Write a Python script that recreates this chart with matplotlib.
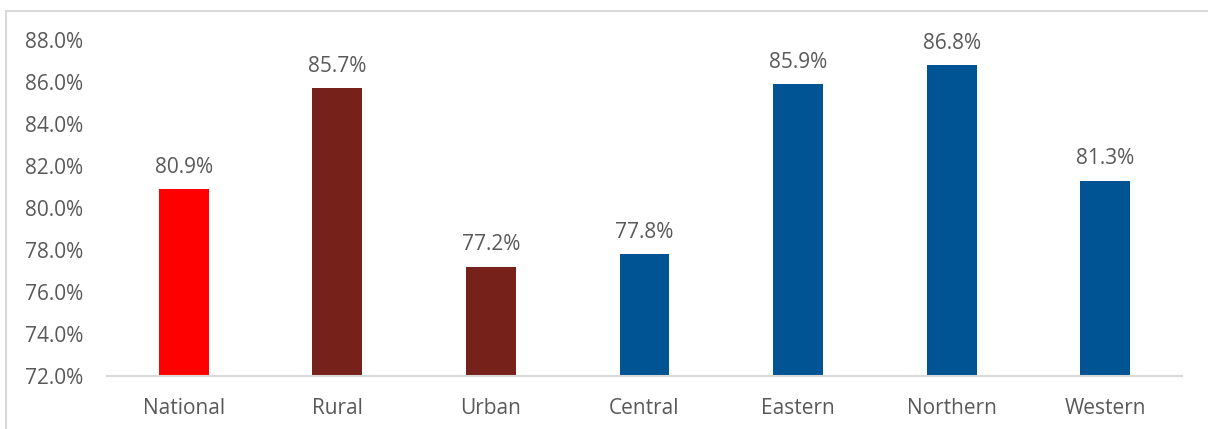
import matplotlib
matplotlib.use("Agg")
import matplotlib.pyplot as plt
from matplotlib.patches import Rectangle

categories = ["National", "Rural", "Urban", "Central", "Eastern", "Northern", "Western"]
values = [80.9, 85.7, 77.2, 77.8, 85.9, 86.8, 81.3]
colors = ["#FF0000", "#76221A", "#76221A", "#005493", "#005493", "#005493", "#005493"]
yticks = [72, 74, 76, 78, 80, 82, 84, 86, 88]

plt.rcParams["font.family"] = ["Open Sans", "DejaVu Sans"]
text_color = "#595959"

fig = plt.figure(figsize=(12.08, 4.29), dpi=100)
ax = fig.add_axes([107 / 1208, 1 - 376 / 429, 1075 / 1208, 336 / 429])

x = list(range(len(categories)))
ax.bar(x, [v - 72 for v in values], bottom=72, width=0.325, color=colors)
for xi, v in zip(x, values):
    ax.text(xi, v + 0.55, f"{v:.1f}%", ha="center", va="bottom",
            fontsize=15, color=text_color)

ax.set_xlim(-0.5, len(categories) - 0.5)
ax.set_ylim(72, 88)
ax.set_yticks(yticks)
ax.set_yticklabels([f"{t:.1f}%" for t in yticks])
ax.set_xticks(x)
ax.set_xticklabels(categories)
ax.tick_params(axis="both", length=0, labelsize=15, labelcolor=text_color)
ax.tick_params(axis="x", pad=16)
ax.tick_params(axis="y", pad=17)
for side in ["top", "right", "left"]:
    ax.spines[side].set_visible(False)
ax.spines["bottom"].set_color("#D9D9D9")
ax.spines["bottom"].set_linewidth(1.5)

# outer frame
fig.patches.append(Rectangle((6 / 1208, -0.1), 1.2, 1 - 11 / 429 + 0.1,
                             transform=fig.transFigure, fill=False,
                             edgecolor="#D9D9D9", linewidth=1.5))

fig.savefig("out.png", dpi=100)
